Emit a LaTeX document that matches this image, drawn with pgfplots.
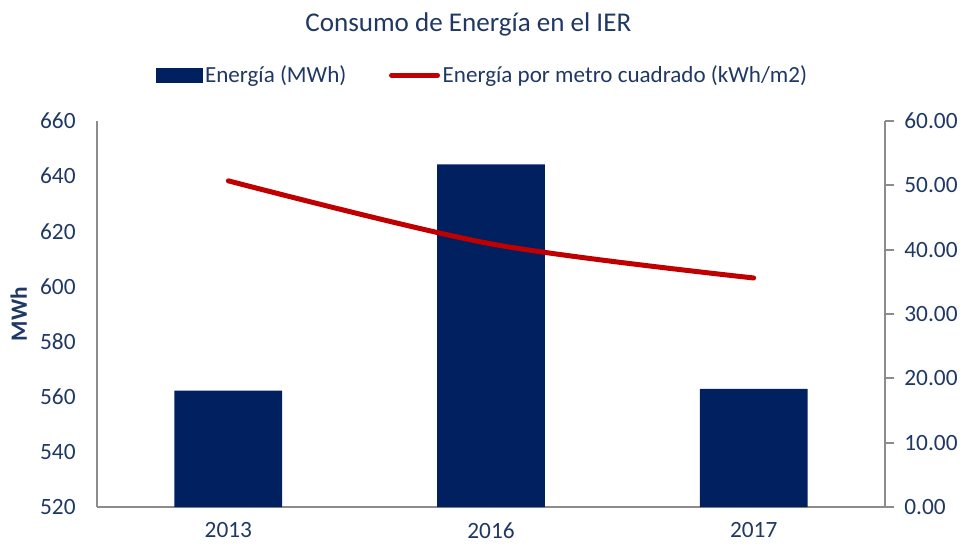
\documentclass[border=0pt]{standalone}
\usepackage{pgfplots}
\pgfplotsset{compat=1.18}
\usepackage{fontspec}
\setmainfont{Carlito}
\definecolor{navy}{HTML}{002060}
\definecolor{dred}{HTML}{C00000}
\definecolor{txt}{HTML}{1F3864}
\definecolor{axg}{HTML}{8C8C8C}
\begin{document}
\begin{tikzpicture}[font=\fontsize{17.5}{21}\selectfont]
\useasboundingbox (-72.75pt,-29.25pt) rectangle (648.75pt,380.25pt);
\pgfplotsset{
  every axis/.append style={
    scale only axis, width=591pt, height=289.5pt,
    at={(0,0)}, anchor=south west,
    xmin=-0.5, xmax=2.5,
    /pgf/number format/assume math mode=true,
    tick label style={text=txt, font=\fontsize{17.5}{21}\selectfont},
    axis line style={axg, line width=1.3pt},
  }
}
\begin{axis}[
  ymin=520, ymax=660, ytick={520,540,...,660},
  xtick={0,1,2}, xticklabels={2013,2016,2017},
  axis x line*=bottom, axis y line*=left,
  major tick length=0pt,
  yticklabel style={xshift=-12.5pt},
  xticklabel style={yshift=-10.5pt, inner ysep=1pt},
  ylabel={\textbf{MWh}}, ylabel shift=3pt,
  ylabel style={text=txt, font=\fontsize{17.5}{21}\selectfont},
]
\addplot[ybar, bar width=0.41, fill=navy, draw=none] coordinates {(0,562.2) (1,644.3) (2,562.8)};
\end{axis}
\begin{axis}[
  ymin=0, ymax=60, ytick={0,10,...,60},
  axis x line=none, axis y line*=right,
  yticklabel={\pgfmathprintnumber[fixed, fixed zerofill, precision=2]{\tick}},
  ytick style={axg, line width=1.3pt}, major tick length=7pt, tick align=outside,
  yticklabel style={xshift=4pt},
  title={Consumo de Energía en el IER},
  title style={text=txt, font=\fontsize{20.3}{24}\selectfont, yshift=54pt, xshift=-17pt},
  legend style={at={(0.49,1)}, anchor=south, yshift=25pt, draw=none, fill=none,
    legend columns=2, text=txt, font=\fontsize{17.3}{21}\selectfont,
    /tikz/every even column/.append style={column sep=30pt},
    legend cell align=left, inner sep=0pt},
]
\addlegendimage{legend image code/.code={\fill[navy] (0pt,-5.5pt) rectangle (34pt,5.5pt);}}
\addlegendentry{Energía (MWh)}
\addplot[dred, line width=3.75pt, smooth, line cap=round, legend image code/.code={\draw[dred,line width=3.75pt,line cap=round] (1.5pt,0pt) -- (36pt,0pt);}]
  coordinates {(0,50.7) (1,40.9) (2,35.6)};
\addlegendentry{Energía por metro cuadrado (kWh/m2)}
\end{axis}
\end{tikzpicture}
\end{document}
